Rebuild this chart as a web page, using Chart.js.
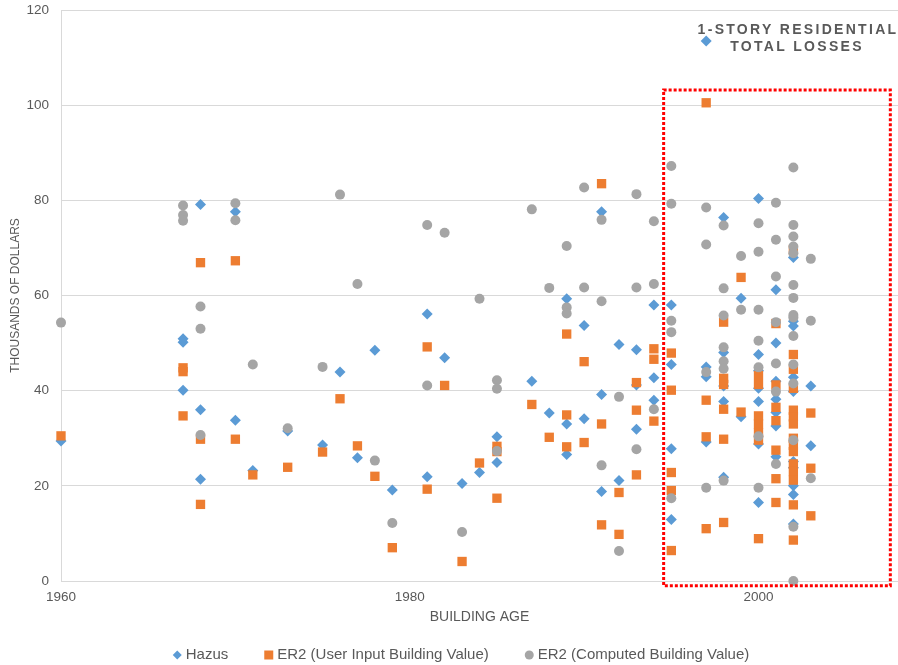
<!DOCTYPE html>
<html>
<head>
<meta charset="utf-8">
<title>1-Story Residential Total Losses</title>
<script src="https://cdn.jsdelivr.net/npm/chart.js@4.4.1/dist/chart.umd.min.js"></script>
<style>
  html, body { margin: 0; padding: 0; background: #ffffff; }
  #wrap { width: 898px; height: 665px; }
</style>
</head>
<body>
<div id="wrap"><canvas id="chart"></canvas></div>
<script>
// Building years, and for each year the losses (thousands of dollars).
var years = [1960, 1967, 1968, 1970, 1971, 1973, 1975, 1976, 1977, 1978, 1979,
             1981, 1982, 1983, 1984, 1985, 1987, 1988, 1989, 1990, 1991, 1992,
             1993, 1994, 1995, 1997, 1998, 1999, 2000, 2001, 2002, 2003];

var hazus = [
  [29.4], [50.9, 50.2, 40.1], [79.1, 36.0, 21.4], [77.6, 33.8], [23.2], [31.5],
  [28.6], [43.9], [25.9], [48.5], [19.1],
  [56.1, 21.9], [46.9], [20.5], [22.8], [30.3, 24.9], [42.0], [35.3],
  [59.3, 33.0, 26.6], [53.7, 34.1], [77.6, 39.2, 18.8], [49.7, 21.1],
  [48.6, 41.2, 31.9], [58.0, 42.7, 38.0], [58.0, 45.5, 27.8, 12.9],
  [113.5, 45.0, 42.9, 29.2], [76.4, 48.0, 41.0, 37.7, 21.8], [59.4, 34.5],
  [80.4, 47.6, 44.2, 40.5, 37.7, 28.8, 16.5],
  [61.2, 50.0, 42.0, 38.2, 35.4, 32.6, 26.1],
  [68.0, 54.6, 53.6, 42.8, 39.8, 25.1, 23.8, 20.0, 18.2, 12.0],
  [41.0, 28.4]
];

var er2User = [
  [30.5], [44.8, 44.0, 34.7], [66.9, 29.8, 16.1], [67.3, 29.8], [22.3], [23.9],
  [27.1], [38.3], [28.4], [22.0], [7.0],
  [49.2, 19.3], [41.1], [4.1], [24.8], [28.3, 27.2, 17.4], [37.1], [30.2],
  [51.9, 34.9, 28.2], [46.1, 29.1], [83.5, 33.0, 11.8], [18.6, 9.8],
  [41.7, 35.9, 22.3], [48.8, 46.6, 33.6], [47.9, 40.1, 22.8, 19.0, 6.4],
  [100.5, 38.0, 30.3, 11.0], [54.4, 42.6, 41.3, 36.1, 29.8, 12.3], [63.8, 35.5],
  [43.2, 41.3, 34.7, 33.0, 31.2, 29.6, 8.9],
  [54.1, 41.2, 36.5, 33.7, 27.5, 21.5, 16.5],
  [69.6, 47.6, 44.5, 40.5, 35.9, 34.5, 33.0, 30.0, 28.5, 27.2, 24.6, 23.0, 21.2, 16.0, 8.6],
  [35.3, 23.7, 13.7]
];

var er2Computed = [
  [54.3], [78.9, 76.9, 75.7], [57.7, 53.0, 30.7], [79.4, 75.8], [45.5], [32.1],
  [45.0], [81.2], [62.4], [25.3], [12.2],
  [74.8, 41.1], [73.2], [10.3], [59.3], [42.2, 40.4, 27.3], [78.1], [61.6],
  [70.4, 57.5, 56.2], [82.7, 61.7], [75.9, 58.8, 24.3], [38.7, 6.3],
  [81.3, 61.7, 27.7], [75.6, 62.4, 36.1], [87.2, 79.3, 54.7, 52.3, 17.4],
  [78.5, 70.7, 43.9, 19.6], [74.7, 61.5, 55.8, 49.1, 46.2, 44.6, 21.1], [68.3, 57.0],
  [75.2, 69.2, 57.0, 50.5, 44.9, 30.4, 19.6],
  [79.5, 71.7, 64.0, 54.4, 45.7, 39.8, 24.6],
  [86.9, 74.8, 72.4, 70.3, 68.9, 62.2, 59.5, 55.9, 55.4, 51.5, 45.5, 41.5, 29.6, 11.4, 0.0],
  [67.7, 54.7, 21.6]
];

var seriesNames = ['Hazus', 'ER2 (User Input Building Value)', 'ER2 (Computed Building Value)'];
var xTicks = [1960, 1980, 2000];
var yTicks = [0, 20, 40, 60, 80, 100, 120];
var titleLines = ['1-STORY RESIDENTIAL', 'TOTAL LOSSES'];

// Highlighted recent-construction window, in axis units.
var boxYears = [1994.56, 2007.56];
var boxLosses = [-1.0, 103.2];

var FONT = '"Liberation Sans", Arial, sans-serif';
var TEXT = '#595959';
var GRID = '#d9d9d9';

// Turn year/value lists into scatter points.
function toPoints(series) {
  var pts = [];
  years.forEach(function(yr, i) {
    series[i].forEach(function(v) { pts.push({x: yr, y: v}); });
  });
  return pts;
}

function drawMarker(ctx, style, x, y, color) {
  ctx.fillStyle = color;
  ctx.beginPath();
  if (style === 'rectRot') {
    ctx.moveTo(x, y - 4.5); ctx.lineTo(x + 4.5, y); ctx.lineTo(x, y + 4.5); ctx.lineTo(x - 4.5, y);
    ctx.closePath();
  } else if (style === 'rect') {
    ctx.rect(x - 4.5, y - 4.5, 9, 9);
  } else {
    ctx.arc(x, y, 4.5, 0, Math.PI * 2);
  }
  ctx.fill();
}

// Title, dotted highlight box and legend.
var extras = {
  id: 'extras',
  afterDatasetsDraw: function(chart) {
    var ctx = chart.ctx, sx = chart.scales.x, sy = chart.scales.y;
    var l = sx.getPixelForValue(boxYears[0]), r = sx.getPixelForValue(boxYears[1]);
    var t = sy.getPixelForValue(boxLosses[1]), b = sy.getPixelForValue(boxLosses[0]);
    ctx.save();
    ctx.strokeStyle = '#ff0000';
    ctx.lineWidth = 3;
    ctx.setLineDash([3, 2]);
    ctx.strokeRect(l, t, r - l, b - t);
    ctx.restore();
  },
  afterDraw: function(chart) {
    var ctx = chart.ctx;
    ctx.save();
    ctx.fillStyle = TEXT;
    ctx.font = 'bold 14px ' + FONT;
    ctx.letterSpacing = '2.3px';
    ctx.textAlign = 'center';
    ctx.textBaseline = 'middle';
    ctx.fillText(titleLines[0], 798, 30);
    ctx.fillText(titleLines[1], 797, 47);
    ctx.restore();

    // legend
    ctx.save();
    ctx.font = '15px ' + FONT;
    ctx.textBaseline = 'middle';
    ctx.textAlign = 'left';
    var gap = 36, total = 0;
    var ds = chart.data.datasets;
    ds.forEach(function(d, i) {
      total += 13 + ctx.measureText(d.label).width + (i < ds.length - 1 ? gap : 0);
    });
    var cx = 461 - total / 2, ly = 655;
    ds.forEach(function(d) {
      drawMarker(ctx, d.pointStyle, cx + 4.5, ly, d.backgroundColor);
      ctx.fillStyle = TEXT;
      ctx.fillText(d.label, cx + 13, ly);
      cx += 13 + ctx.measureText(d.label).width + gap;
    });
    ctx.restore();
  }
};

new Chart(document.getElementById('chart'), {
  type: 'scatter',
  data: {
    datasets: [
      { label: seriesNames[0], data: toPoints(hazus), pointStyle: 'rectRot', pointRadius: 5.5,
        backgroundColor: '#5B9BD5', borderColor: '#5B9BD5', borderWidth: 0, order: 3, clip: false },
      { label: seriesNames[1], data: toPoints(er2User), pointStyle: 'rect', pointRadius: 6.6,
        backgroundColor: '#ED7D31', borderColor: '#ED7D31', borderWidth: 0, order: 2, clip: false },
      { label: seriesNames[2], data: toPoints(er2Computed), pointStyle: 'circle', pointRadius: 5,
        backgroundColor: '#A5A5A5', borderColor: '#A5A5A5', borderWidth: 0, order: 1, clip: false }
    ]
  },
  options: {
    responsive: true,
    maintainAspectRatio: false,
    animation: false,
    events: [],
    layout: { autoPadding: false, padding: { left: 0, right: 0, top: 10, bottom: 30 } },
    plugins: {
      legend: { display: false },
      tooltip: { enabled: false }
    },
    scales: {
      x: {
        type: 'linear',
        min: 1960,
        max: 2008,
        afterBuildTicks: function(s) { s.ticks = xTicks.map(function(v) { return {value: v}; }); },
        afterFit: function(s) { s.height = 54; s.paddingLeft = 0; s.paddingRight = 0; },
        grid: { display: false, drawTicks: false, tickLength: 0 },
        border: { display: true, color: GRID, width: 1 },
        ticks: { color: TEXT, font: { family: FONT, size: 13.5 }, padding: 8, maxRotation: 0,
                 callback: function(v) { return String(v); } },
        title: { display: true, text: 'BUILDING AGE', color: TEXT,
                 font: { family: FONT, size: 14 }, padding: { top: 0, bottom: 9.6 } }
      },
      y: {
        min: 0,
        max: 120,
        afterBuildTicks: function(s) { s.ticks = yTicks.map(function(v) { return {value: v}; }); },
        afterFit: function(s) { s.width = 61; s.paddingTop = 0; s.paddingBottom = 0; },
        grid: { color: GRID, drawTicks: false },
        border: { display: true, color: GRID, width: 1 },
        ticks: { color: TEXT, font: { family: FONT, size: 13.5 }, padding: 12 },
        title: { display: true, text: 'THOUSANDS OF DOLLARS', color: TEXT,
                 font: { family: FONT, size: 12 }, padding: { top: 8.3, bottom: 0 } }
      }
    }
  },
  plugins: [extras]
});
</script>
</body>
</html>
